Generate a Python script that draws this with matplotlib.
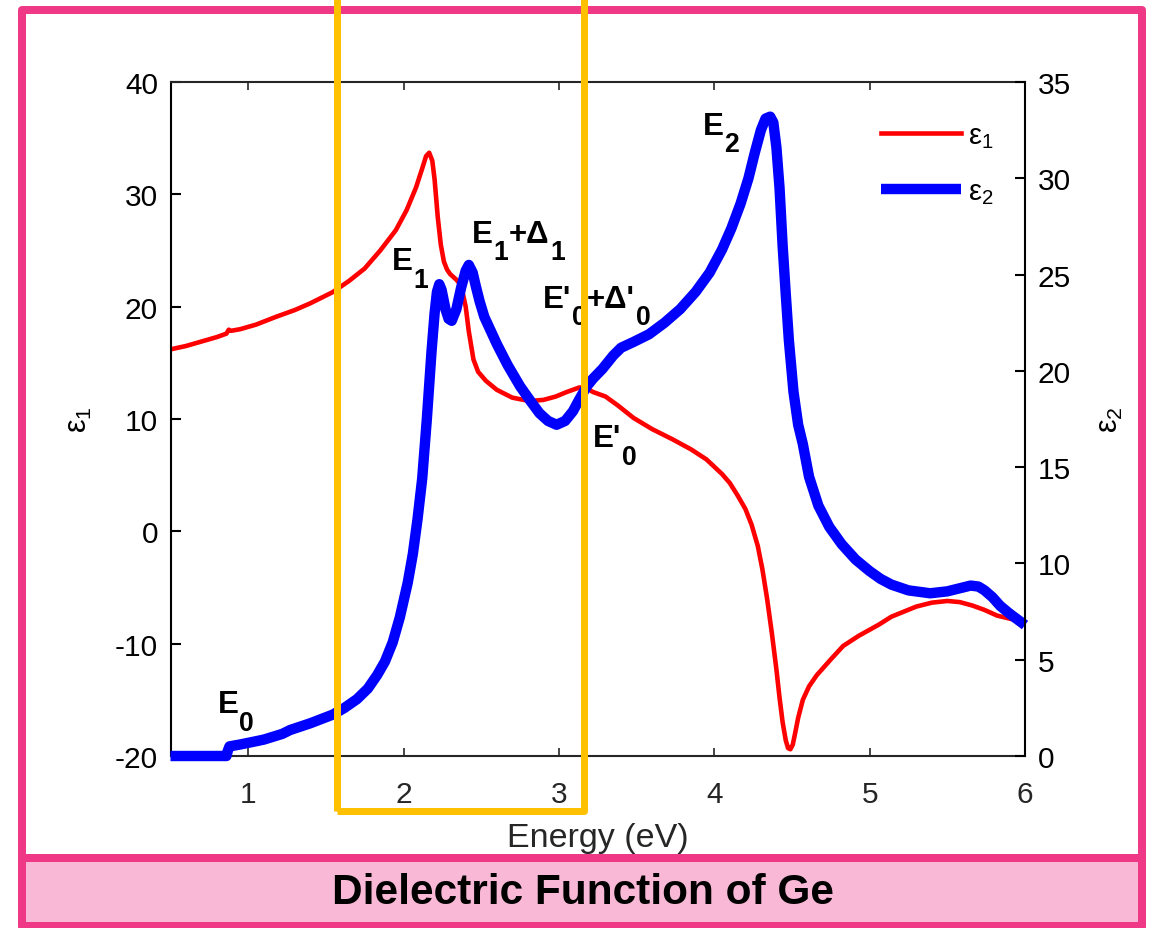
import matplotlib
matplotlib.use('Agg')
import matplotlib.pyplot as plt
from matplotlib.patches import Rectangle

plt.rcParams['font.family'] = ['Liberation Sans', 'DejaVu Sans']
plt.rcParams['mathtext.fontset'] = 'custom'
plt.rcParams['mathtext.rm'] = 'Liberation Sans'
plt.rcParams['mathtext.it'] = 'Liberation Sans:italic'
plt.rcParams['mathtext.bf'] = 'Liberation Sans:bold'
plt.rcParams['mathtext.fallback'] = 'stixsans'
plt.rcParams['axes.unicode_minus'] = False

# ---------------- data ----------------
energy_e1 = [0.50, 0.60, 0.70, 0.80, 0.86, 0.875, 0.89, 0.95, 1.05, 1.18, 1.30, 1.40,
             1.545, 1.65, 1.75, 1.85, 1.95, 2.02, 2.08, 2.12, 2.145, 2.165, 2.185, 2.20,
             2.22, 2.24, 2.26, 2.28, 2.30, 2.34, 2.37, 2.40, 2.42, 2.45, 2.48, 2.53, 2.60,
             2.70, 2.81, 2.90, 2.98, 3.05, 3.13, 3.17, 3.22, 3.30, 3.38, 3.48, 3.60,
             3.73, 3.85, 3.95, 4.05, 4.10, 4.15, 4.20, 4.24, 4.28, 4.31, 4.34, 4.37,
             4.40, 4.42, 4.44, 4.46, 4.475, 4.49, 4.505, 4.52, 4.54, 4.57, 4.61, 4.66,
             4.75, 4.83, 4.93, 5.06, 5.14, 5.30, 5.40, 5.50, 5.58, 5.66, 5.74, 5.82,
             5.91, 6.00]
eps1 = [16.2, 16.5, 16.9, 17.3, 17.6, 17.95, 17.85, 18.0, 18.4, 19.1, 19.7, 20.3,
        21.3, 22.3, 23.4, 25.0, 26.8, 28.6, 30.6, 32.3, 33.4, 33.7, 33.0, 31.3,
        28.0, 25.5, 24.0, 23.3, 22.9, 22.4, 21.9, 20.0, 17.8, 15.3, 14.2, 13.4, 12.6,
        11.9, 11.6, 11.7, 12.0, 12.4, 12.8, 12.8, 12.4, 12.0, 11.2, 10.1, 9.1,
        8.2, 7.3, 6.4, 5.1, 4.3, 3.2, 2.0, 0.6, -1.3, -3.4, -6.0, -9.0,
        -12.3, -14.8, -17.0, -18.6, -19.3, -19.4, -19.0, -18.0, -16.6, -15.0, -13.8, -12.8,
        -11.4, -10.2, -9.3, -8.3, -7.6, -6.7, -6.35, -6.2, -6.3, -6.6, -7.0, -7.5,
        -7.8, -8.0]

energy_e2 = [0.50, 0.86, 0.87, 0.88, 0.95, 1.01, 1.10, 1.16, 1.22, 1.27, 1.40, 1.545,
             1.62, 1.70, 1.77, 1.83, 1.88, 1.93, 1.976, 2.027, 2.06, 2.09, 2.12, 2.15,
             2.18, 2.20, 2.215, 2.23, 2.245, 2.27, 2.29, 2.31, 2.34, 2.37, 2.40, 2.42,
             2.445, 2.465, 2.49, 2.52, 2.56, 2.60, 2.67, 2.75, 2.82, 2.875, 2.93, 2.985,
             3.04, 3.09, 3.13, 3.18, 3.22, 3.28, 3.35, 3.40, 3.48, 3.58, 3.68, 3.78,
             3.88, 3.97, 4.05, 4.11, 4.17, 4.22, 4.26, 4.30, 4.33, 4.36, 4.38, 4.40,
             4.42, 4.44, 4.46, 4.48, 4.51, 4.54, 4.57, 4.61, 4.67, 4.74, 4.82, 4.91,
             5.00, 5.07, 5.14, 5.25, 5.39, 5.50, 5.60, 5.65, 5.70, 5.74, 5.79, 5.84,
             5.90, 5.95, 6.00]
eps2 = [0.0, 0.0, 0.3, 0.5, 0.6, 0.7, 0.85, 1.0, 1.15, 1.35, 1.7, 2.15,
        2.5, 2.95, 3.5, 4.2, 4.9, 5.9, 7.2, 9.0, 10.5, 12.3, 14.4, 17.5,
        21.0, 23.0, 24.1, 24.5, 24.2, 23.2, 22.7, 22.6, 23.2, 24.3, 25.2, 25.5,
        25.1, 24.4, 23.6, 22.8, 22.1, 21.4, 20.3, 19.2, 18.4, 17.8, 17.4, 17.2,
        17.4, 17.9, 18.5, 19.2, 19.6, 20.1, 20.8, 21.2, 21.5, 21.9, 22.5, 23.2,
        24.1, 25.1, 26.3, 27.4, 28.7, 30.0, 31.3, 32.5, 33.1, 33.2, 32.9, 31.6,
        29.5, 26.5, 24.0, 21.6, 18.9, 17.2, 16.2, 14.5, 13.0, 11.9, 11.0, 10.2,
        9.6, 9.2, 8.9, 8.6, 8.45, 8.55, 8.75, 8.85, 8.8, 8.6, 8.25, 7.8,
        7.4, 7.1, 6.8]

x_ticks = [1, 2, 3, 4, 5, 6]
y1_ticks = [-20, -10, 0, 10, 20, 30, 40]
y2_ticks = [0, 5, 10, 15, 20, 25, 30, 35]

labels = [  # (x, eps1-baseline, pieces)
    (0.805, -16.1, [("E", 0), ("0", 1)]),
    (1.927, 23.35, [("E", 0), ("1", 1)]),
    (2.44, 25.8, [("E", 0), ("1", 1), ("+\u0394", 0), ("1", 1)]),
    (2.895, 20.0, [("E'", 0), ("0", 1), ("+\u0394'", 0), ("0", 1)]),
    (3.217, 7.6, [("E'", 0), ("0", 1)]),
    (3.924, 35.4, [("E", 0), ("2", 1)]),
]

title = "Dielectric Function of Ge"
PINK = '#EF3986'
PINK_FILL = '#F9B9D6'
YELLOW = '#FFC000'

# ---------------- figure ----------------
W, H, DPI = 1152, 929, 100
fig = plt.figure(figsize=(W / DPI, H / DPI), dpi=DPI)
fig.patch.set_facecolor('white')


def fx(px):
    return px / W


def fy(py):
    return 1 - py / H


ax1 = fig.add_axes([fx(170.5), fy(757), fx(1025) - fx(170.5), fy(83) - fy(757)])
ax2 = ax1.twinx()

ax1.plot(energy_e1, eps1, color='#FF0000', lw=3.3, solid_joinstyle='round',
         label=r'$\mathrm{\epsilon}_1$')
ax2.plot(energy_e2, eps2, color='#0000FF', lw=7.5, solid_joinstyle='round',
         solid_capstyle='butt', clip_on=False, label=r'$\mathrm{\epsilon}_2$')

ax1.set_xlim(0.5, 6)
ax1.set_ylim(-20, 40)
ax2.set_ylim(0, 35)
ax1.set_xticks(x_ticks)
ax1.set_yticks(y1_ticks)
ax2.set_yticks(y2_ticks)

GRAY = '#262626'
for s in ['top', 'bottom']:
    ax1.spines[s].set_color(GRAY)
    ax1.spines[s].set_linewidth(1.5)
ax1.spines['left'].set_color('black')
ax1.spines['left'].set_linewidth(1.5)
ax1.spines['right'].set_visible(False)
for s in ['top', 'bottom', 'left']:
    ax2.spines[s].set_visible(False)
ax2.spines['right'].set_color('black')
ax2.spines['right'].set_linewidth(1.5)

ax1.tick_params(axis='x', direction='in', top=True, bottom=True, length=6, width=1.2,
                colors=GRAY, labelsize=21.5, pad=17)
ax1.tick_params(axis='y', direction='in', left=True, right=False, length=7, width=1.5,
                colors='black', labelsize=21.5, pad=9)
ax2.tick_params(axis='y', direction='in', right=True, left=False, length=7, width=1.5,
                colors='black', labelsize=21.5, pad=9)

ax1.set_xlabel('Energy (eV)', fontsize=24.5, color=GRAY)
ax1.xaxis.label.set_va('center')
ax1.xaxis.set_label_coords(0.5, (757 - 839) / 674)

ax1.set_ylabel(r'$\mathrm{\epsilon}_1$', fontsize=22, color='black')
ax1.yaxis.label.set_va('center')
ax1.yaxis.set_label_coords((79 - 170.5) / 854.5, 0.5)
ax2.set_ylabel(r'$\mathrm{\epsilon}_2$', fontsize=22, color='black', rotation=90)
ax2.yaxis.label.set_va('center')
ax2.yaxis.set_label_coords((1110 - 170.5) / 854.5, 0.5)

h1, l1 = ax1.get_legend_handles_labels()
h2, l2 = ax2.get_legend_handles_labels()
ax2.legend(h1 + h2, l1 + l2, loc='upper left',
           bbox_to_anchor=((881 - 170.5) / 854.5, (757 - 122) / 674),
           frameon=False, fontsize=21, handlelength=2.75, handletextpad=0.25,
           labelspacing=0.95, borderpad=0, borderaxespad=0)


def draw_label(x, y, pieces, size=22.5, sub_scale=0.85, drop=12):
    kw = dict(fontsize=size, fontweight='bold', color='black', zorder=5)
    t0 = ax2.text(x, y, pieces[0][0], transform=ax1.transData, ha='left', va='baseline', **kw)
    prev, main = t0, t0
    for txt, sub in pieces[1:]:
        if sub:
            t = ax2.annotate(txt, xy=(1, 0), xycoords=(prev, main), xytext=(0.5, -drop),
                             textcoords='offset points', ha='left', va='bottom',
                             fontsize=size * sub_scale, fontweight='bold', color='black', zorder=5)
        else:
            t = ax2.annotate(txt, xy=(1, 0), xycoords=(prev, main), xytext=(0.5, 0),
                             textcoords='offset points', ha='left', va='bottom', **kw)
            main = t
        prev = t


for x, y, pieces in labels:
    draw_label(x, y, pieces)

# ---------------- decorations ----------------
lw_pink = 8 * 72 / DPI
fig.add_artist(Rectangle((fx(22), fy(927)), fx(1142) - fx(22), fy(11) - fy(927),
                         transform=fig.transFigure, fill=False, ec=PINK, lw=lw_pink,
                         joinstyle='round', zorder=10))
fig.add_artist(Rectangle((fx(22), fy(927)), fx(1142) - fx(22), fy(859) - fy(927),
                         transform=fig.transFigure, fc=PINK_FILL, ec=PINK, lw=lw_pink,
                         joinstyle='round', zorder=10))
fig.text(fx(583), fy(893), title, ha='center', va='center', fontsize=30.5,
         fontweight='bold', color='black', zorder=11)

fig.add_artist(Rectangle((fx(336.5), fy(812)), fx(583.5) - fx(336.5), fy(-30) - fy(812),
                         transform=fig.transFigure, fill=False, ec=YELLOW, lw=7 * 72 / DPI,
                         joinstyle='round', zorder=12))

fig.savefig('out.png', dpi=DPI)
